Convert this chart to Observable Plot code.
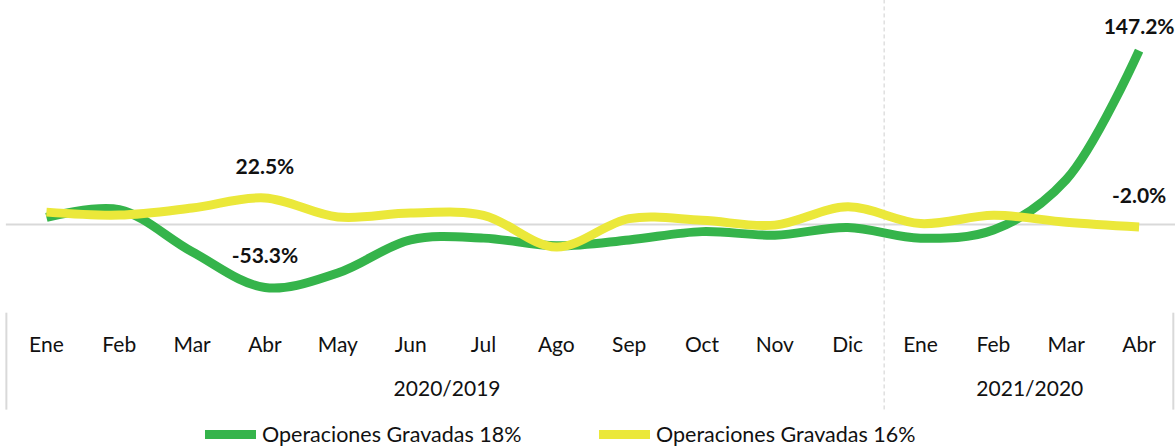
<!DOCTYPE html>
<html><head><meta charset="utf-8">
<script src="https://cdn.jsdelivr.net/npm/d3@7"></script>
<script src="https://cdn.jsdelivr.net/npm/@observablehq/plot@0.6"></script>
<style>
html,body{margin:0;padding:0;background:#fff;}
#wrap{position:relative;width:1175px;height:446px;overflow:hidden;font-family:Lato,"Open Sans",sans-serif;}
#legend{position:absolute;left:0;top:423px;width:1175px;height:23px;font-size:21.5px;line-height:1;color:#111;}
.item{position:absolute;top:0;display:flex;align-items:center;height:23px;}
.sw{width:51px;height:9px;margin-right:6px;}
</style></head>
<body><div id="wrap"><div id="chart"></div><div id="legend"></div></div>
<script>
const months = ["Ene","Feb","Mar","Abr","May","Jun","Jul","Ago","Sep","Oct","Nov","Dic","Ene","Feb","Mar","Abr"];
const periods = ["2020/2019","2021/2020"];
const periodOfMonth = [0,0,0,0,0,0,0,0,0,0,0,0,1,1,1,1];
const seriesNames = ["Operaciones Gravadas 18%","Operaciones Gravadas 16%"];
const seriesColors = ["#35b44b","#ebe83a"];
const green18 = [6,12.5,-23,-53.3,-41,-13,-11.5,-18,-13,-6,-9,-2.5,-11.5,-4.7,38,147.2];
const yellow16 = [10.5,8,14,22.5,6.4,9.7,7.8,-19,5,3.6,-0.5,15,0.8,7.8,2,-2.0];
// labelled points: [series index, month index]
const labelled = [[1,3],[0,3],[1,15]];
const labelledTop = [[0,15]];

const rows = [];
[green18, yellow16].forEach((vals, s) => vals.forEach((v, i) => rows.push({s, name: seriesNames[s], i, v})));
const mk = ([s,i]) => ({s, i, v: [green18,yellow16][s][i], text: [green18,yellow16][s][i].toFixed(1) + "%"});
const labelRows = labelled.map(mk);
const labelTopRows = labelledTop.map(mk);
const periodRows = periods.map((p, k) => {
  const idx = periodOfMonth.map((g, i) => g === k ? i : null).filter(d => d !== null);
  return {p, x: (idx[0] + idx[idx.length-1]) / 2};
});

const W = 1175, H = 420;
const chart = Plot.plot({
  width: W, height: H,
  marginLeft: 9.5, marginRight: 0, marginTop: 34.9, marginBottom: H - 318.6,
  style: {fontFamily: "Lato, 'Open Sans', sans-serif", background: "#fff", overflow: "visible"},
  x: {domain: [-0.5, months.length - 0.5], axis: null},
  y: {domain: [-80, 160], axis: null},
  marks: [
    Plot.ruleY([0], {x1: -0.55, x2: 15.5, stroke: "#d9d9d9", strokeWidth: 2}),
    Plot.ruleX([-0.55], {y1: -75, y2: -157, stroke: "#d9d9d9", strokeWidth: 2}),
    Plot.ruleX([11.5], {y1: 190, y2: -157, stroke: "#cfcfcf", strokeWidth: 1, strokeDasharray: "4,3"}),
    Plot.ruleX([15.47], {y1: -75, y2: -157, stroke: "#d9d9d9", strokeWidth: 2}),
    Plot.line(rows.filter(d => d.s === 0), {x: "i", y: "v", stroke: seriesColors[0], strokeWidth: 9, curve: "catmull-rom", strokeLinecap: "butt"}),
    Plot.line(rows.filter(d => d.s === 1), {x: "i", y: "v", stroke: seriesColors[1], strokeWidth: 9, curve: "catmull-rom", strokeLinecap: "butt"}),
    Plot.text(labelRows, {x: "i", y: "v", text: "text", dy: -31, fontSize: 21, fontWeight: "bold", fill: "#111"}),
    Plot.text(labelTopRows, {x: "i", y: "v", text: "text", dy: -23, fontSize: 21, fontWeight: "bold", fill: "#111"}),
    Plot.text(months.map((m, i) => ({m, i})), {x: "i", text: "m", frameAnchor: "bottom", dy: 33, fontSize: 21, fill: "#111"}),
    Plot.text(periodRows, {x: "x", text: "p", frameAnchor: "bottom", dy: 77, fontSize: 21, fill: "#111"})
  ]
});
document.getElementById("chart").appendChild(chart);

const leg = document.getElementById("legend");
const legLeft = [205, 599];
seriesNames.forEach((n, s) => {
  const it = document.createElement("div");
  it.className = "item";
  it.style.left = legLeft[s] + "px";
  it.innerHTML = `<div class="sw" style="background:${seriesColors[s]}"></div><span>${n}</span>`;
  leg.appendChild(it);
});
</script></body></html>
